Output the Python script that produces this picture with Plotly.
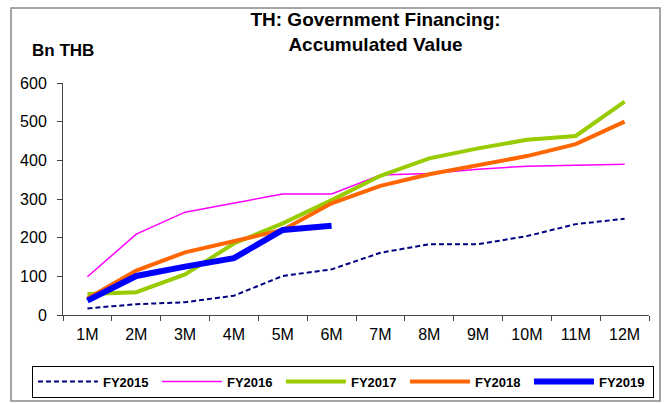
import plotly.graph_objects as go

months = ["1M", "2M", "3M", "4M", "5M", "6M", "7M", "8M", "9M", "10M", "11M", "12M"]
fy2015 = [17, 28, 33, 50, 101, 118, 161, 183, 183, 204, 235, 249]
fy2016 = [99, 209, 266, 289, 313, 313, 362, 366, 377, 385, 387, 390]
fy2017 = [54, 59, 105, 185, 237, 297, 360, 405, 431, 453, 463, 552]
fy2018 = [43, 115, 162, 191, 220, 289, 334, 364, 388, 411, 442, 500]
fy2019 = [37, 101, 125, 147, 220, 231]
y_ticks = [0, 100, 200, 300, 400, 500, 600]

FONT = "Arial, Liberation Sans, sans-serif"

fig = go.Figure()
fig.add_trace(go.Scatter(x=months, y=fy2015, name="FY2015", mode="lines",
                         line=dict(color="#000080", width=2, dash="5px,3px")))
fig.add_trace(go.Scatter(x=months, y=fy2016, name="FY2016", mode="lines",
                         line=dict(color="#FF00FF", width=1.5)))
fig.add_trace(go.Scatter(x=months, y=fy2017, name="FY2017", mode="lines",
                         line=dict(color="#99CC00", width=4)))
fig.add_trace(go.Scatter(x=months, y=fy2018, name="FY2018", mode="lines",
                         line=dict(color="#FF6600", width=4)))
fig.add_trace(go.Scatter(x=months[:len(fy2019)], y=fy2019, name="FY2019", mode="lines",
                         line=dict(color="#0000FF", width=6)))

fig.update_layout(
    width=667, height=403,
    margin=dict(l=63, r=18, t=83, b=88, autoexpand=False),
    paper_bgcolor="white", plot_bgcolor="white",
    font=dict(family=FONT, color="black"),
    title=dict(text="TH: Government Financing:<br>Accumulated Value",
               x=0.563, xanchor="center", xref="container",
               y=0.935, yanchor="top", yref="container",
               font=dict(size=19, weight="bold", family=FONT)),
    showlegend=True,
    legend=dict(orientation="h", x=-0.053, xanchor="left",
                y=-0.218, yanchor="top",
                bordercolor="black", borderwidth=1, bgcolor="white",
                font=dict(size=13, family=FONT, weight="bold"),
                itemwidth=60,
                entrywidth=49, entrywidthmode="pixels", tracegroupgap=0),
    xaxis=dict(type="category", categoryorder="array", categoryarray=months,
               range=[-0.5, 11.5], showgrid=False, showline=True, linecolor="#444",
               linewidth=1, ticks="outside", tickson="boundaries", ticklen=5,
               tickcolor="#444", tickfont=dict(size=16), zeroline=False,
               ticklabelstandoff=5),
    yaxis=dict(range=[0, 600], tickvals=y_ticks, showgrid=False, showline=True,
               linecolor="#444", linewidth=1, ticks="outside", ticklen=5,
               tickcolor="#444", tickfont=dict(size=16), zeroline=False,
               ticklabelstandoff=7),
    annotations=[dict(text="Bn THB", xref="paper", yref="paper",
                      x=-0.0563, y=1.142, xanchor="left", yanchor="middle",
                      showarrow=False, font=dict(size=17, weight="bold"))],
    shapes=[dict(type="rect", xref="paper", yref="paper",
                 x0=-0.0887, x1=1.0188, y0=-0.371, y1=1.323,
                 line=dict(color="#888", width=1.5), fillcolor="rgba(0,0,0,0)",
                 layer="below")],
)

fig.write_html("out.html", config={"displayModeBar": False},
               post_script="document.body.style.margin='0';")
